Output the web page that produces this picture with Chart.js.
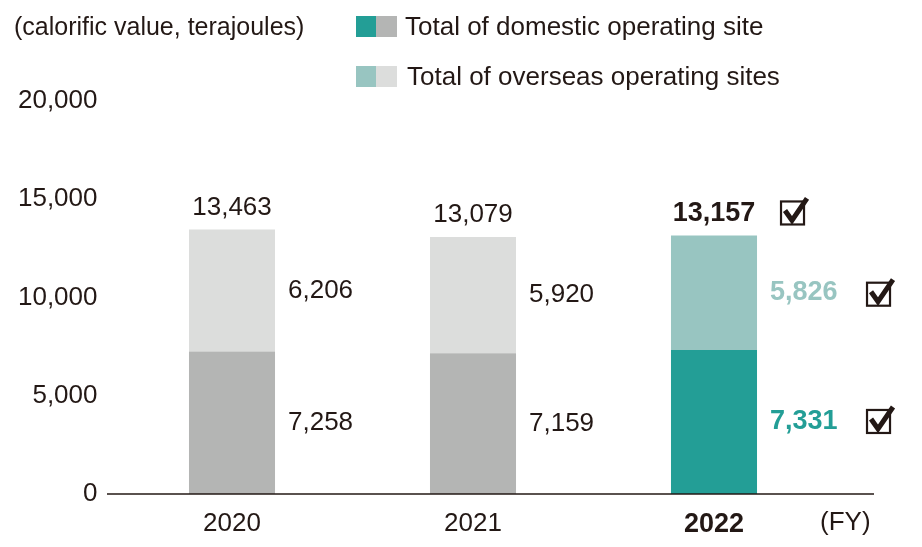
<!DOCTYPE html>
<html>
<head>
<meta charset="utf-8">
<script src="https://cdn.jsdelivr.net/npm/chart.js@4"></script>
<style>
html,body{margin:0;padding:0;background:#fff;}
#wrap{width:922px;height:547px;position:relative;}
</style>
</head>
<body>
<div id="wrap"><canvas id="c"></canvas></div>
<script>
const years = ['2020', '2021', '2022'];
const domestic = [7258, 7159, 7331];
const overseas = [6206, 5920, 5826];
const totals = [13463, 13079, 13157];
const yTicks = [0, 5000, 10000, 15000, 20000];
const highlightIndex = 2;
const unitLabel = '(calorific value, terajoules)';
const fyLabel = '(FY)';
const legendLabels = ['Total of domestic operating site', 'Total of overseas operating sites'];

const TEXT = '#231815';
const FONT = '"Liberation Sans", Arial, Helvetica, sans-serif';
const FS = 26;
const FSB = 27;
const domColors = ['#b4b5b4', '#b4b5b4', '#239e96'];
const ovsColors = ['#dcdddc', '#dcdddc', '#98c5c1'];
const fmt = v => v.toLocaleString('en-US');

function drawCheck(ctx, x, y) {
  ctx.save();
  ctx.strokeStyle = TEXT;
  ctx.lineWidth = 2.2;
  ctx.strokeRect(x + 1, y + 1, 23, 23);
  ctx.lineWidth = 5;
  ctx.lineJoin = 'miter';
  ctx.lineCap = 'butt';
  ctx.beginPath();
  ctx.moveTo(x + 5, y + 10);
  ctx.lineTo(x + 12, y + 20);
  ctx.lineTo(x + 27, y - 2);
  ctx.stroke();
  ctx.restore();
}

const overlay = {
  id: 'overlay',
  afterDraw(chart) {
    const ctx = chart.ctx;
    const ys = chart.scales.y;
    const y0 = ys.getPixelForValue(0);
    ctx.save();
    ctx.strokeStyle = TEXT;
    ctx.lineWidth = 1.5;
    ctx.beginPath();
    ctx.moveTo(107, y0);
    ctx.lineTo(874, y0);
    ctx.stroke();

    ctx.textBaseline = 'middle';
    ctx.fillStyle = TEXT;
    ctx.textAlign = 'left';
    ctx.font = `25px ${FONT}`;
    ctx.fillText(unitLabel, 14, 28);
    ctx.font = `${FS}px ${FONT}`;
    ctx.fillText(fyLabel, 820, 523);

    // legend
    ctx.fillStyle = '#239e96'; ctx.fillRect(356, 16, 20, 21);
    ctx.fillStyle = '#b4b5b4'; ctx.fillRect(376, 16, 21, 21);
    ctx.fillStyle = '#98c5c1'; ctx.fillRect(356, 66, 20, 21);
    ctx.fillStyle = '#dcdddc'; ctx.fillRect(376, 66, 21, 21);
    ctx.fillStyle = TEXT;
    ctx.fillText(legendLabels[0], 405, 28);
    ctx.fillText(legendLabels[1], 407, 78);

    const mDom = chart.getDatasetMeta(0);
    const mOvs = chart.getDatasetMeta(1);
    years.forEach((yr, i) => {
      const bOvs = mOvs.data[i];
      const bDom = mDom.data[i];
      const right = bOvs.x + bOvs.width / 2;
      const hl = i === highlightIndex;
      ctx.textAlign = 'center';
      ctx.font = hl ? `bold ${FSB}px ${FONT}` : `${FS}px ${FONT}`;
      ctx.fillStyle = TEXT;
      const ty = bOvs.y - 22;
      ctx.fillText(fmt(totals[i]), bOvs.x, ty);
      ctx.textAlign = 'left';
      const oy = (bOvs.y + bOvs.base) / 2;
      const dy = (bDom.y + bDom.base) / 2;
      ctx.fillStyle = hl ? '#98c5c1' : TEXT;
      ctx.fillText(fmt(overseas[i]), right + 13, oy);
      ctx.fillStyle = hl ? '#239e96' : TEXT;
      ctx.fillText(fmt(domestic[i]), right + 13, dy);
      if (hl) {
        drawCheck(ctx, right + 23, ty - 13);
        drawCheck(ctx, right + 109, oy - 11);
        drawCheck(ctx, right + 109, dy - 13);
      }
    });
    ctx.restore();
  }
};

new Chart(document.getElementById('c'), {
  type: 'bar',
  data: {
    labels: years,
    datasets: [
      { label: legendLabels[0], data: domestic, backgroundColor: domColors, borderWidth: 0 },
      { label: legendLabels[1], data: overseas, backgroundColor: ovsColors, borderWidth: 0 }
    ]
  },
  options: {
    responsive: true,
    maintainAspectRatio: false,
    animation: false,
    devicePixelRatio: 1,
    layout: { padding: { top: 101, right: 87.5, left: 0, bottom: 0 } },
    plugins: { legend: { display: false }, tooltip: { enabled: false } },
    datasets: { bar: { categoryPercentage: 1, barPercentage: 0.357 } },
    scales: {
      x: {
        stacked: true,
        grid: { display: false, drawTicks: false },
        border: { display: false },
        afterFit: s => { s.height = 53; },
        ticks: {
          color: TEXT,
          padding: 14,
          font: ctx => ctx.index === highlightIndex
            ? { family: FONT, size: FSB, weight: 'bold' }
            : { family: FONT, size: FS, weight: 'normal' }
        }
      },
      y: {
        stacked: true,
        min: 0,
        max: 20000,
        grid: { display: false, drawTicks: false },
        border: { display: false },
        afterFit: s => { s.width = 111.5; },
        afterBuildTicks: s => { s.ticks = yTicks.map(v => ({ value: v })); },
        ticks: {
          color: TEXT,
          padding: 14,
          font: { family: FONT, size: FS },
          callback: v => fmt(v)
        }
      }
    }
  },
  plugins: [overlay]
});
</script>
</body>
</html>
